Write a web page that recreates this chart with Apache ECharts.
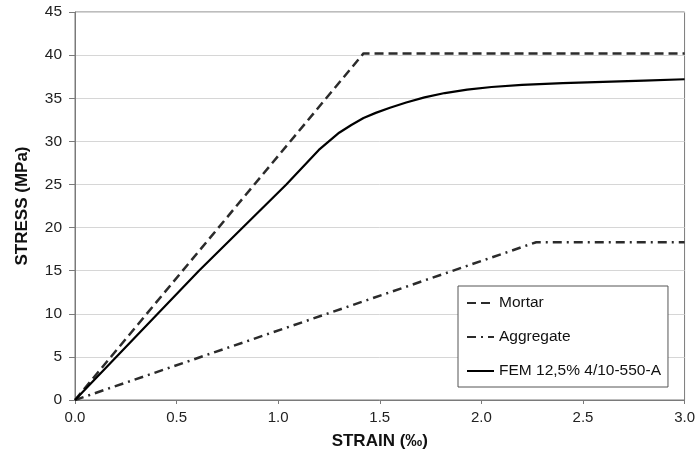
<!DOCTYPE html>
<html lang="en">
<head>
    <meta charset="UTF-8">
    <script src="https://cdn.jsdelivr.net/npm/echarts@6/dist/echarts.min.js"></script>
    <style>
        html, body { margin: 0; padding: 0; background: #fff; }
        #chart { width: 698px; height: 459px; }
    </style>
</head>
<body>
<div id="chart"></div>
<script>
    // values
    var xTicks = [0, 0.5, 1.0, 1.5, 2.0, 2.5, 3.0];
    var yTicks = [0, 5, 10, 15, 20, 25, 30, 35, 40, 45];

    var mortarStrain = [0, 1.42, 3.0];
    var mortarStress = [0, 40.2, 40.2];

    var aggregateStrain = [0, 2.27, 3.0];
    var aggregateStress = [0, 18.3, 18.3];

    var femStrain = [0, 0.61, 1.04, 1.2, 1.3, 1.36, 1.42, 1.48, 1.55, 1.63, 1.72, 1.82, 1.93, 2.05, 2.2, 2.4, 2.6, 2.8, 3.0];
    var femStress = [0, 15, 25, 29, 31, 31.9, 32.7, 33.3, 33.9, 34.5, 35.1, 35.6, 36.0, 36.3, 36.55, 36.75, 36.9, 37.05, 37.2];

    function pairs(xs, ys) {
        var out = [];
        for (var i = 0; i < xs.length; i++) {
            out.push([xs[i], ys[i]]);
        }
        return out;
    }

    var chart = echarts.init(document.getElementById('chart'));
    var font = 'Liberation Sans, Arial, sans-serif';

    var option = {
        animation: false,
        textStyle: { fontFamily: font },
        grid: {
            left: 75, right: 11, top: 12, bottom: 59,
            show: true, borderColor: '#7a7a7a', borderWidth: 1
        },
        legend: {
            orient: 'vertical',
            left: 458,
            top: 286,
            padding: [9, 7, 8, 8],
            itemWidth: 27,
            itemHeight: 15,
            itemGap: 18,
            backgroundColor: '#fff',
            borderColor: '#555',
            borderWidth: 1,
            itemStyle: { opacity: 0 },
            textStyle: { fontFamily: font, fontSize: 15.5, color: '#111' },
            data: ['Mortar', 'Aggregate', 'FEM 12,5% 4/10-550-A']
        },
        xAxis: {
            type: 'value',
            min: xTicks[0],
            max: xTicks[xTicks.length - 1],
            interval: 0.5,
            name: 'STRAIN (‰)',
            nameLocation: 'middle',
            nameGap: 33,
            nameTextStyle: { fontFamily: font, fontSize: 17, fontWeight: 'bold', color: '#111' },
            axisLine: { lineStyle: { color: '#7a7a7a' } },
            axisTick: { show: true, length: 4, lineStyle: { color: '#7a7a7a' } },
            axisLabel: {
                margin: 10, fontSize: 15, color: '#222',
                formatter: function (v) { return v.toFixed(1); }
            },
            splitLine: { show: false }
        },
        yAxis: {
            type: 'value',
            min: yTicks[0],
            max: yTicks[yTicks.length - 1],
            interval: 5,
            name: 'STRESS (MPa)',
            nameLocation: 'middle',
            nameGap: 44,
            nameTextStyle: { fontFamily: font, fontSize: 17, fontWeight: 'bold', color: '#111' },
            axisLine: { show: true, lineStyle: { color: '#7a7a7a' } },
            axisTick: { show: true, length: 6, lineStyle: { color: '#7a7a7a' } },
            axisLabel: { margin: 13, fontSize: 15.5, color: '#222' },
            splitLine: { show: true, lineStyle: { color: '#d6d6d6', width: 1 } }
        },
        series: [
            {
                name: 'Mortar',
                type: 'line',
                symbol: 'none',
                data: pairs(mortarStrain, mortarStress),
                lineStyle: { color: '#2b2b2b', width: 2.5, type: [9, 5] },
                itemStyle: { color: '#2b2b2b' }
            },
            {
                name: 'Aggregate',
                type: 'line',
                symbol: 'none',
                data: pairs(aggregateStrain, aggregateStress),
                lineStyle: { color: '#2b2b2b', width: 2.5, type: [9, 5, 2, 5] },
                itemStyle: { color: '#2b2b2b' }
            },
            {
                name: 'FEM 12,5% 4/10-550-A',
                type: 'line',
                symbol: 'none',
                data: pairs(femStrain, femStress),
                lineStyle: { color: '#000', width: 2.2 },
                itemStyle: { color: '#000' }
            }
        ]
    };
    chart.setOption(option);
</script>
</body>
</html>
